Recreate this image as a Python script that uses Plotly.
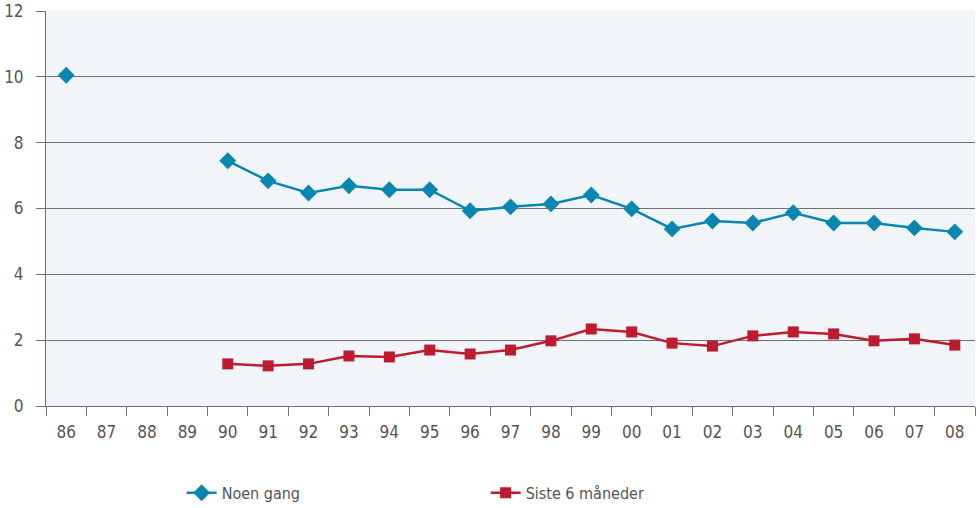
import plotly.graph_objects as go

# Years shown on the x axis (two-digit labels)
years = ["86", "87", "88", "89", "90", "91", "92", "93", "94", "95", "96", "97",
         "98", "99", "00", "01", "02", "03", "04", "05", "06", "07", "08"]

noen_gang = [10.05, None, None, None, 7.45, 6.84, 6.47, 6.69, 6.57, 6.57, 5.93, 6.05,
             6.14, 6.41, 5.99, 5.38, 5.62, 5.56, 5.87, 5.56, 5.56, 5.41, 5.29]

siste_6_mnd = [None, None, None, None, 1.28, 1.22, 1.28, 1.52, 1.49, 1.70, 1.58, 1.70,
               1.98, 2.34, 2.25, 1.91, 1.82, 2.13, 2.25, 2.19, 1.98, 2.04, 1.85]

BLUE = "#0a87b1"
RED = "#be1b2f"
TEXT = "#555555"
GRID = "#707070"
FONT = "DejaVu Sans Condensed, Roboto, sans-serif"

fig = go.Figure()
fig.add_trace(go.Scatter(
    x=years, y=noen_gang, name="Noen gang", mode="lines+markers",
    line=dict(color=BLUE, width=2.5),
    marker=dict(symbol="diamond", size=13, color=BLUE),
    connectgaps=False,
))
fig.add_trace(go.Scatter(
    x=years, y=siste_6_mnd, name="Siste 6 måneder", mode="lines+markers",
    line=dict(color=RED, width=2.5),
    marker=dict(symbol="square", size=11, color=RED),
    connectgaps=False,
))

fig.update_layout(
    width=977,
    height=508,
    margin=dict(l=46, r=2, t=11, b=102, autoexpand=False),
    paper_bgcolor="white",
    plot_bgcolor="#f1f5f9",
    font=dict(family=FONT, size=17, color=TEXT),
    showlegend=True,
    legend=dict(
        orientation="h",
        x=0.146, xanchor="left",
        y=-0.22, yanchor="middle",
        entrywidth=259, entrywidthmode="pixels",
        font=dict(family=FONT, size=16, color=TEXT),
        bgcolor="rgba(0,0,0,0)",
    ),
)

fig.update_xaxes(
    type="category",
    categoryorder="array",
    categoryarray=years,
    tickson="boundaries",
    ticks="outside",
    ticklen=9,
    tickcolor=GRID,
    showline=True,
    linecolor=GRID,
    linewidth=1,
    showgrid=False,
    ticklabelstandoff=11,
    ticklabeloverflow="allow",
    automargin=False,
    range=[-0.5, len(years) - 0.5],
)

fig.update_yaxes(
    range=[0, 12],
    tickvals=[0, 2, 4, 6, 8, 10, 12],
    ticks="outside",
    ticklen=9,
    tickcolor=GRID,
    showline=True,
    linecolor=GRID,
    linewidth=1,
    showgrid=True,
    gridcolor=GRID,
    gridwidth=1,
    zeroline=False,
    ticklabelstandoff=9,
    ticklabeloverflow="allow",
    automargin=False,
)

# drop the default page margin so the figure fills the window from the corner
fig.write_html(
    "out.html",
    config={"displayModeBar": False},
    post_script="document.body.style.margin = '0px';",
)
